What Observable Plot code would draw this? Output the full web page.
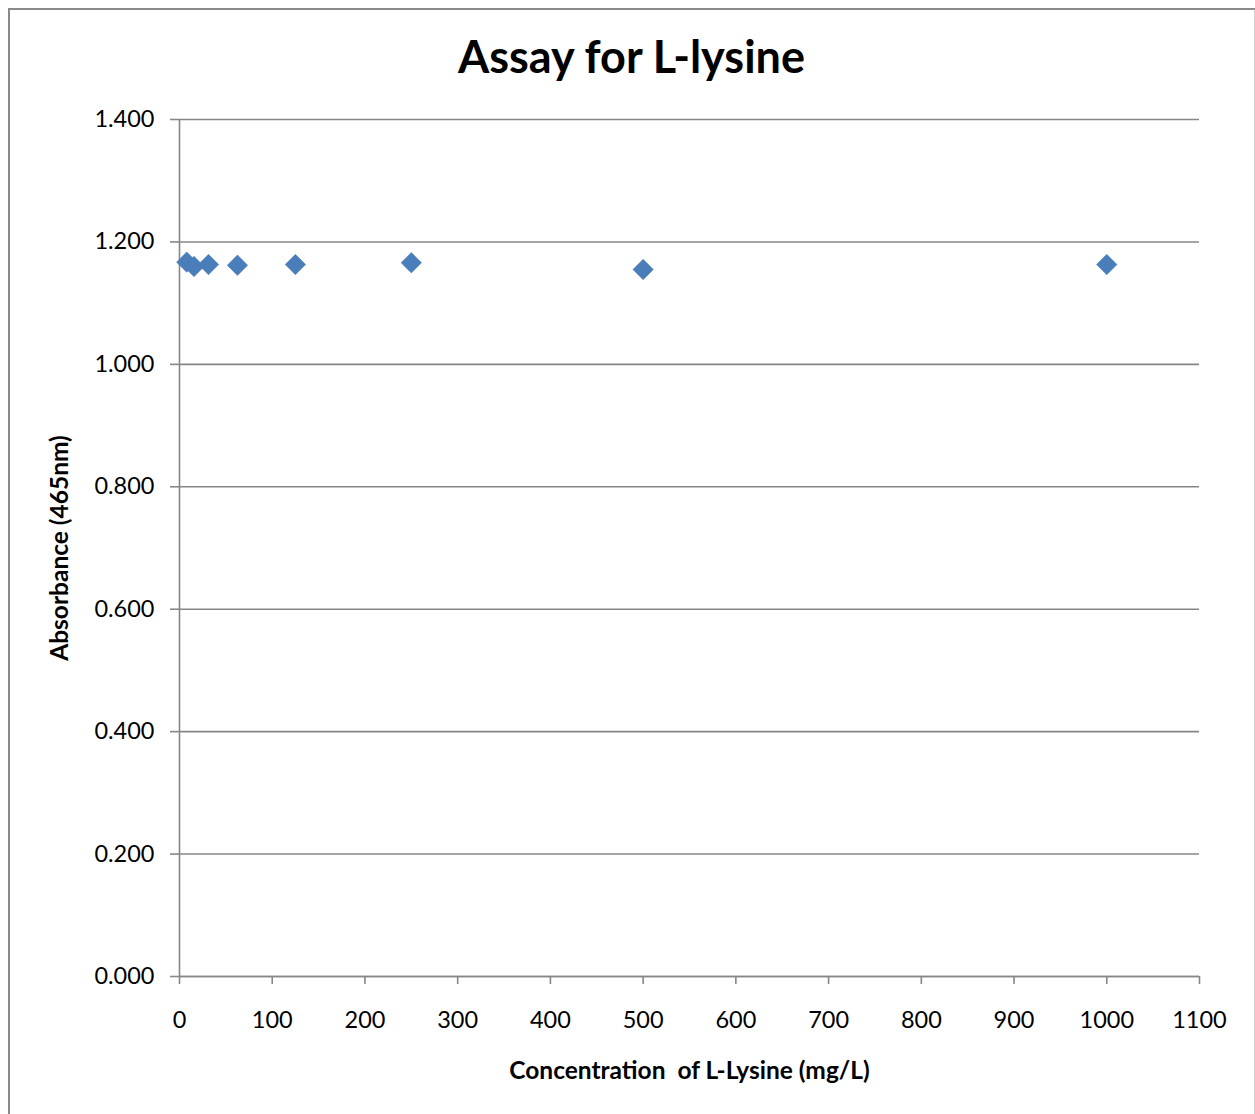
<!DOCTYPE html>
<html>
<head>
<meta charset="utf-8">
<script src="https://cdn.jsdelivr.net/npm/d3@7"></script>
<script src="https://cdn.jsdelivr.net/npm/@observablehq/plot@0.6"></script>
<style>
  html, body { margin: 0; padding: 0; background: #fff; }
  #wrap { position: relative; width: 1255px; height: 1114px; overflow: hidden; }
  #border { position: absolute; left: 8px; top: 8px; width: 1244px; height: 1120px;
            border-left: 2px solid #8a8a8a; border-top: 2px solid #8a8a8a; border-right: 2px solid #d0d0d0; }
  #chart { position: absolute; left: 0; top: 0; }
</style>
</head>
<body>
<div id="wrap"><div id="border"></div><div id="chart"></div></div>
<script>
const concentration = [7.8125, 15.625, 31.25, 62.5, 125, 250, 500, 1000];
const absorbance = [1.167, 1.160, 1.163, 1.162, 1.163, 1.166, 1.155, 1.163];
const xTicks = [0, 100, 200, 300, 400, 500, 600, 700, 800, 900, 1000, 1100];
const yTicks = [0, 0.2, 0.4, 0.6, 0.8, 1.0, 1.2, 1.4];
const title = "Assay for L-lysine";
const xLabel = "Concentration  of L-Lysine (mg/L)";
const yLabel = "Absorbance (465nm)";

const data = concentration.map((c, i) => ({c, a: absorbance[i]}));
const font = "Lato, 'Open Sans', sans-serif";
const grey = "#878787";

const chart = Plot.plot({
  width: 1255,
  height: 1114,
  marginLeft: 179,
  marginRight: 56,
  marginTop: 119,
  marginBottom: 138,
  style: {fontFamily: font, background: "transparent", color: "#000"},
  x: {domain: [0, 1100]},
  y: {domain: [0, 1.4]},
  marks: [
    Plot.gridY(yTicks, {stroke: grey, strokeOpacity: 1, strokeWidth: 1.6}),
    Plot.ruleX([0], {stroke: grey, strokeWidth: 1.6}),
    Plot.ruleY([0], {stroke: grey, strokeWidth: 1.6}),
    Plot.axisY(yTicks, {tickFormat: d3.format(".3f"), tickSize: 9, tickPadding: 16, fontSize: 23.5, stroke: grey, strokeWidth: 1.6, label: null}),
    Plot.axisX(xTicks, {tickFormat: d => String(d), tickSize: 8, tickPadding: 27, fontSize: 23.5, stroke: grey, strokeWidth: 1.6, label: null}),
    Plot.dot(data, {x: "c", y: "a", symbol: "diamond2", r: 9.2, fill: "#4a7ebb", stroke: "#4577b3", strokeWidth: 0.5}),
    Plot.text([title], {frameAnchor: "top", textAnchor: "middle", lineAnchor: "middle", dx: -58, dy: -61, fontSize: 45, fontWeight: "bold", fill: "#000"}),
    Plot.text([xLabel], {frameAnchor: "bottom", textAnchor: "middle", lineAnchor: "middle", dy: 95, fontSize: 24.5, fontWeight: "bold", fill: "#000"}),
    Plot.text([yLabel], {frameAnchor: "left", textAnchor: "middle", lineAnchor: "middle", dx: -119, rotate: -90, fontSize: 24.5, fontWeight: "bold", fill: "#000"})
  ]
});
document.getElementById("chart").appendChild(chart);
</script>
</body>
</html>
